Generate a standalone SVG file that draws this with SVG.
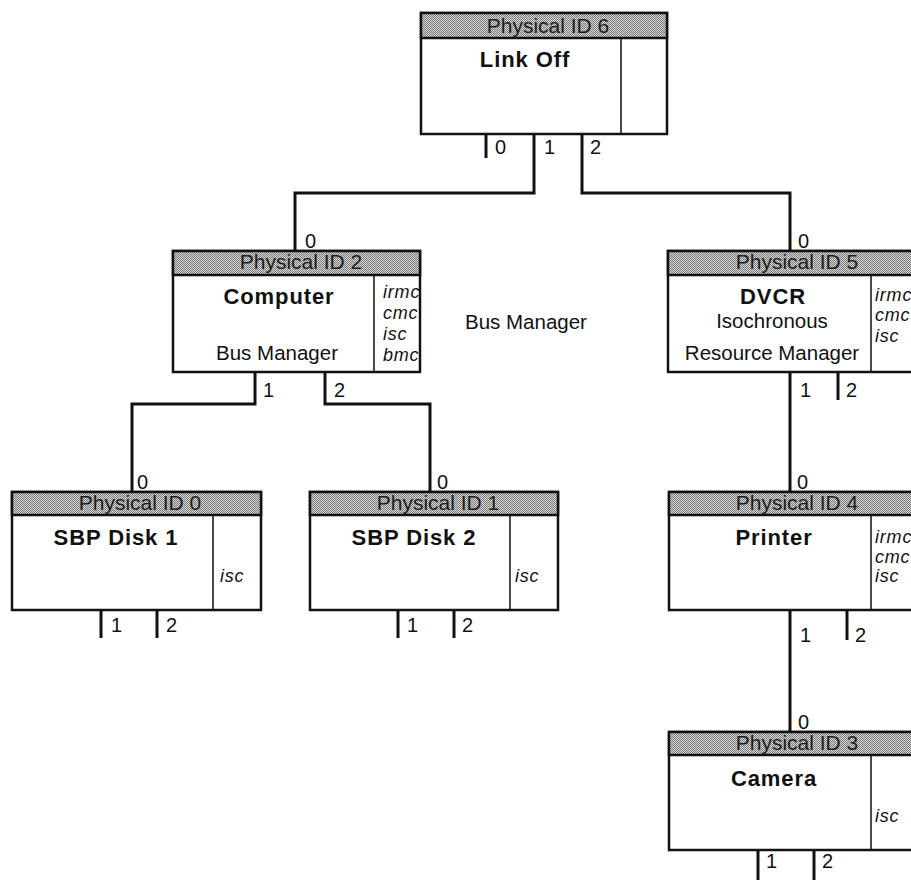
<svg xmlns="http://www.w3.org/2000/svg" width="911" height="880" viewBox="0 0 911 880">
  <defs>
    <!-- halftone fill used in the node title bars -->
    <pattern id="dots" width="2" height="2" patternUnits="userSpaceOnUse">
      <rect width="2" height="2" fill="#d8d8d8"/>
      <rect x="0" y="0" width="1" height="1" fill="#7a7a7a"/>
      <rect x="1" y="1" width="1" height="1" fill="#7a7a7a"/>
    </pattern>
  </defs>
  <style>
    text { font-family: "Liberation Sans", Arial, Helvetica, sans-serif; fill: #111; }
    .box { fill: #fff; stroke: #111; stroke-width: 2.5; }
    .bar { fill: url(#dots); stroke: #111; stroke-width: 2.5; }
    .div { stroke: #111; stroke-width: 1.5; }
    .hdr { font-size: 21px; text-anchor: middle; fill: #1c1c1c; }
    .name { font-size: 22px; font-weight: bold; text-anchor: middle; letter-spacing: 0.9px; }
    .role { font-size: 20.5px; text-anchor: middle; }
    .cap { font-size: 18px; font-style: italic; letter-spacing: 0.8px; }
    .port { font-size: 20px; }
    .stub { stroke: #111; stroke-width: 3; fill: none; }
    .wire { stroke: #111; stroke-width: 3; fill: none; }
    .free { font-size: 20.5px; }
  </style>

  <rect width="911" height="880" fill="#fff"/>

  <!-- cabling between ports -->
  <g id="connectors">
    <path class="wire" d="M534,134 V193 H295 V251"/>
    <path class="wire" d="M582,134 V193 H790 V251"/>
    <path class="wire" d="M255,372 V404 H132 V492"/>
    <path class="wire" d="M325,372 V404 H430 V492"/>
    <path class="wire" d="M790,372 V492"/>
    <path class="wire" d="M790,610 V732"/>
  </g>

  <!-- Physical ID 6 -->
  <g id="node-link-off">
    <rect class="box" x="421" y="13" width="246" height="121"/>
    <rect class="bar" x="421" y="13" width="246" height="25"/>
    <line class="div" x1="621" y1="38" x2="621" y2="134"/>
    <text class="hdr" x="548" y="33">Physical ID 6</text>
    <text class="name" x="525" y="67">Link Off</text>
    <line class="stub" x1="486" y1="134" x2="486" y2="158"/>
    <text class="port" x="495" y="154">0</text>
    <text class="port" x="544" y="154">1</text>
    <text class="port" x="590" y="154">2</text>
  </g>

  <!-- Physical ID 2 -->
  <g id="node-computer">
    <rect class="box" x="173" y="251" width="247" height="121"/>
    <rect class="bar" x="173" y="251" width="247" height="24"/>
    <line class="div" x1="374" y1="275" x2="374" y2="372"/>
    <text class="port" x="305" y="248">0</text>
    <text class="hdr" x="301" y="269">Physical ID 2</text>
    <text class="name" x="279" y="304">Computer</text>
    <text class="role" x="277" y="360">Bus Manager</text>
    <text class="cap" x="383" y="298">irmc</text>
    <text class="cap" x="383" y="319">cmc</text>
    <text class="cap" x="383" y="340">isc</text>
    <text class="cap" x="383" y="361">bmc</text>
    <text class="port" x="263" y="397">1</text>
    <text class="port" x="334" y="397">2</text>
  </g>

  <!-- free label -->
  <text class="free" x="465" y="329">Bus Manager</text>

  <!-- Physical ID 5 -->
  <g id="node-dvcr">
    <rect class="box" x="668" y="251" width="250" height="121"/>
    <rect class="bar" x="668" y="251" width="250" height="24"/>
    <line class="div" x1="871" y1="275" x2="871" y2="372"/>
    <text class="port" x="798" y="248">0</text>
    <text class="hdr" x="797" y="269">Physical ID 5</text>
    <text class="name" x="773" y="304">DVCR</text>
    <text class="role" x="772" y="328">Isochronous</text>
    <text class="role" x="772" y="360">Resource Manager</text>
    <text class="cap" x="875" y="301">irmc</text>
    <text class="cap" x="875" y="321">cmc</text>
    <text class="cap" x="875" y="342">isc</text>
    <line class="stub" x1="838" y1="372" x2="838" y2="400"/>
    <text class="port" x="800" y="397">1</text>
    <text class="port" x="846" y="397">2</text>
  </g>

  <!-- Physical ID 0 -->
  <g id="node-sbp-disk-1">
    <rect class="box" x="12" y="492" width="249" height="118"/>
    <rect class="bar" x="12" y="492" width="249" height="23"/>
    <line class="div" x1="213" y1="515" x2="213" y2="610"/>
    <text class="port" x="137" y="489">0</text>
    <text class="hdr" x="140" y="510">Physical ID 0</text>
    <text class="name" x="116" y="545">SBP Disk 1</text>
    <text class="cap" x="220" y="582">isc</text>
    <line class="stub" x1="101" y1="610" x2="101" y2="638"/>
    <line class="stub" x1="157" y1="610" x2="157" y2="638"/>
    <text class="port" x="111" y="632">1</text>
    <text class="port" x="166" y="632">2</text>
  </g>

  <!-- Physical ID 1 -->
  <g id="node-sbp-disk-2">
    <rect class="box" x="310" y="492" width="248" height="118"/>
    <rect class="bar" x="310" y="492" width="248" height="23"/>
    <line class="div" x1="510" y1="515" x2="510" y2="610"/>
    <text class="port" x="437" y="489">0</text>
    <text class="hdr" x="438" y="510">Physical ID 1</text>
    <text class="name" x="414" y="545">SBP Disk 2</text>
    <text class="cap" x="515" y="582">isc</text>
    <line class="stub" x1="398" y1="610" x2="398" y2="638"/>
    <line class="stub" x1="454" y1="610" x2="454" y2="638"/>
    <text class="port" x="407" y="632">1</text>
    <text class="port" x="462" y="632">2</text>
  </g>

  <!-- Physical ID 4 -->
  <g id="node-printer">
    <rect class="box" x="669" y="492" width="249" height="118"/>
    <rect class="bar" x="669" y="492" width="249" height="23"/>
    <line class="div" x1="871" y1="515" x2="871" y2="610"/>
    <text class="port" x="797" y="489">0</text>
    <text class="hdr" x="797" y="510">Physical ID 4</text>
    <text class="name" x="774" y="545">Printer</text>
    <text class="cap" x="875" y="543">irmc</text>
    <text class="cap" x="875" y="563">cmc</text>
    <text class="cap" x="875" y="582">isc</text>
    <line class="stub" x1="847" y1="610" x2="847" y2="640"/>
    <text class="port" x="800" y="642">1</text>
    <text class="port" x="855" y="642">2</text>
  </g>

  <!-- Physical ID 3 -->
  <g id="node-camera">
    <rect class="box" x="669" y="732" width="249" height="118"/>
    <rect class="bar" x="669" y="732" width="249" height="23"/>
    <line class="div" x1="871" y1="755" x2="871" y2="850"/>
    <text class="port" x="798" y="729">0</text>
    <text class="hdr" x="797" y="750">Physical ID 3</text>
    <text class="name" x="774" y="786">Camera</text>
    <text class="cap" x="875" y="822">isc</text>
    <line class="stub" x1="758" y1="850" x2="758" y2="880"/>
    <line class="stub" x1="814" y1="850" x2="814" y2="880"/>
    <text class="port" x="766" y="868">1</text>
    <text class="port" x="822" y="868">2</text>
  </g>
</svg>
